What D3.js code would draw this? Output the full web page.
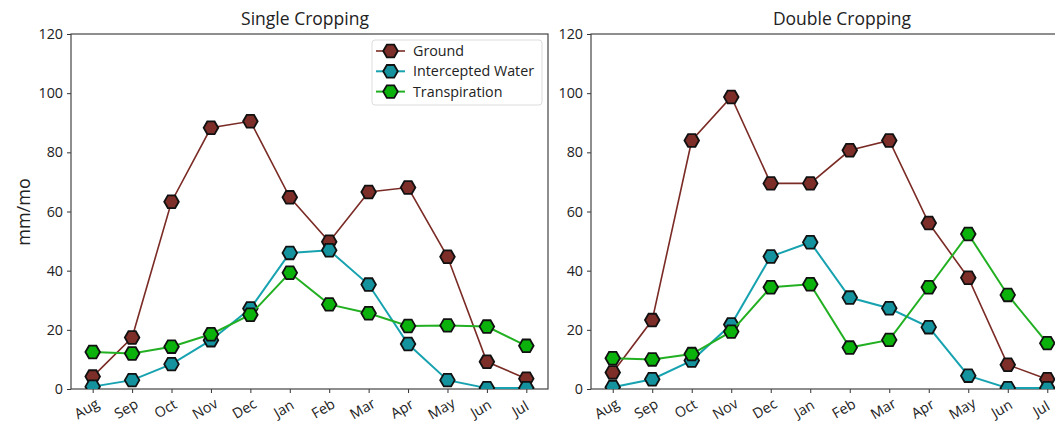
<!DOCTYPE html>
<html><head><meta charset="utf-8">
<script src="https://cdn.jsdelivr.net/npm/d3@7"></script>
<style>
body{margin:0;background:#fff;}
text{font-family:"Open Sans",sans-serif;fill:#222;}
</style></head>
<body><svg id="c" width="1055" height="423"></svg>
<script>
const months = ["Aug","Sep","Oct","Nov","Dec","Jan","Feb","Mar","Apr","May","Jun","Jul"];
const yTicks = [0,20,40,60,80,100,120];
const seriesNames = ["Ground","Intercepted Water","Transpiration"];
const singleGround = [4.2,17.4,63.3,88.3,90.5,64.8,49.8,66.6,68.1,44.7,9.2,3.5];
const singleIntercepted = [0.8,3.0,8.4,16.5,27.2,46.0,46.9,35.3,15.2,3.0,0.3,0.3];
const singleTranspiration = [12.5,12.0,14.3,18.5,25.1,39.3,28.6,25.6,21.3,21.5,21.1,14.6];
const doubleGround = [5.6,23.3,84.0,98.7,69.5,69.5,80.7,84.0,56.1,37.6,8.2,3.3];
const doubleIntercepted = [0.6,3.3,9.6,21.8,44.8,49.6,30.9,27.3,20.9,4.5,0.3,0.3];
const doubleTranspiration = [10.4,10.0,11.8,19.4,34.4,35.4,14.0,16.6,34.4,52.4,31.8,15.5];

const lineColors = ["#7a2b25","#17a2b0","#22b022"];
const fillColors = ["#7d2e28","#14929e","#0cb20c"];
const lineWidths = [1.6,2,2];

const svg = d3.select("#c");
const plotTop = 34, plotBottom = 389;

function hexPath(r){
  const pts=[];
  for(let i=0;i<6;i++){const a=Math.PI/3*i;pts.push([r*Math.cos(a),r*Math.sin(a)]);}
  return "M"+pts.map(p=>p.join(",")).join("L")+"Z";
}
const hex = hexPath(7.3);

function panel(id, left, right, title, titleX, data){
  const g = svg.append("g");
  const x = d3.scalePoint().domain(months).range([left,right]).padding(0.55);
  const y = d3.scaleLinear().domain([0,120]).range([plotBottom,plotTop]);
  g.append("clipPath").attr("id","clip"+id).append("rect")
    .attr("x",left).attr("y",plotTop).attr("width",right-left).attr("height",plotBottom-plotTop);
  const ya = g.append("g").attr("transform",`translate(${left},0)`)
    .call(d3.axisLeft(y).tickValues(yTicks).tickSize(4).tickPadding(4));
  ya.select(".domain").remove();
  ya.selectAll("line").attr("stroke","#333");
  ya.selectAll("text").style("font-size","14.3px").style("font-family","Open Sans").attr("fill","#222");
  const xa = g.append("g").attr("transform",`translate(0,${plotBottom})`)
    .call(d3.axisBottom(x).tickSize(4).tickPadding(4));
  xa.select(".domain").remove();
  xa.selectAll("line").attr("stroke","#333");
  xa.selectAll("text").style("font-size","14.3px").style("font-family","Open Sans").attr("fill","#222")
    .attr("text-anchor","middle").attr("dy",0).attr("y",0)
    .attr("transform","translate(-4,24) rotate(-30)");
  g.append("rect").attr("x",left).attr("y",plotTop).attr("width",right-left).attr("height",plotBottom-plotTop)
    .attr("fill","none").attr("stroke","#444").attr("stroke-width",1.2);
  g.append("text").attr("x",titleX).attr("y",25).attr("text-anchor","middle")
    .style("font-size","17.5px").text(title);
  const plot = g.append("g").attr("clip-path",`url(#clip${id})`);
  data.forEach((vals,i)=>{
    plot.append("path").datum(vals)
      .attr("d",d3.line().x((d,j)=>x(months[j])).y(d=>y(d)))
      .attr("fill","none").attr("stroke",lineColors[i]).attr("stroke-width",lineWidths[i]);
    plot.selectAll(null).data(vals).enter().append("path")
      .attr("d",hex).attr("transform",(d,j)=>`translate(${x(months[j])},${y(d)})`)
      .attr("fill",fillColors[i]).attr("stroke","#111").attr("stroke-width",1.8);
  });
  return g;
}

panel(1,71,548,"Single Cropping",305,[singleGround,singleIntercepted,singleTranspiration]);
panel(2,591,1069,"Double Cropping",842,[doubleGround,doubleIntercepted,doubleTranspiration]);

svg.append("text").attr("transform","translate(30,212) rotate(-90)").attr("text-anchor","middle")
  .style("font-size","18px").text("mm/mo");

const lg = svg.append("g");
lg.append("rect").attr("x",372).attr("y",40).attr("width",170).attr("height",65).attr("rx",3)
  .attr("fill","#fff").attr("stroke","#ddd");
seriesNames.forEach((n,i)=>{
  const yy = 51 + i*20.3;
  lg.append("line").attr("x1",376).attr("x2",405).attr("y1",yy).attr("y2",yy)
    .attr("stroke",lineColors[i]).attr("stroke-width",lineWidths[i]);
  lg.append("path").attr("d",hex).attr("transform",`translate(390.5,${yy})`)
    .attr("fill",fillColors[i]).attr("stroke","#111").attr("stroke-width",1.8);
  lg.append("text").attr("x",413).attr("y",yy+5).style("font-size","14.3px").text(n);
});
</script></body></html>
